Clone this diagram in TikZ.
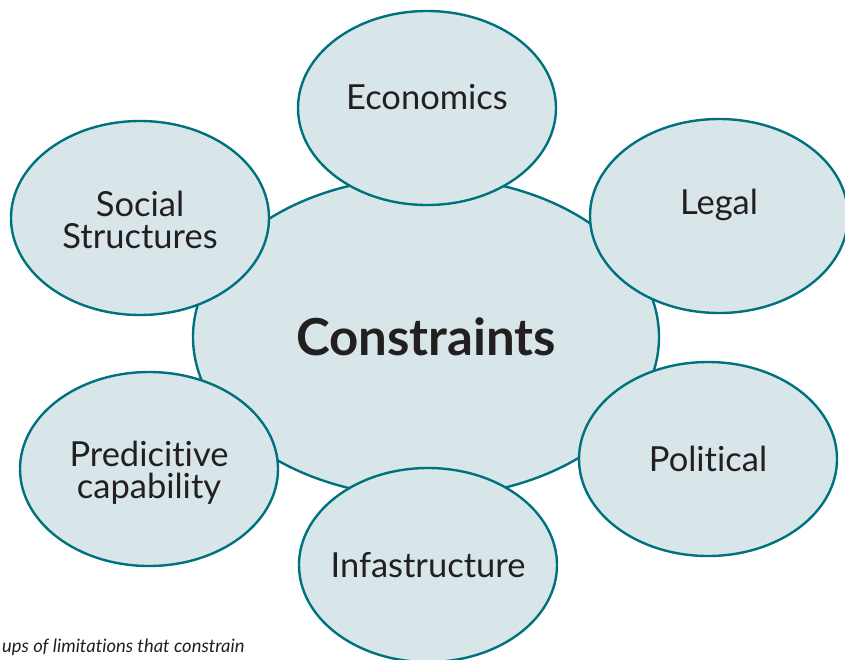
\documentclass[tikz,border=0pt]{standalone}
\usepackage{fontspec}
\setmainfont{Lato}[Ligatures=NoCommon]
\usepackage{xcolor}
\usetikzlibrary{shapes.geometric}

\definecolor{bubbleline}{RGB}{0,114,126}
\definecolor{bubblefill}{RGB}{216,230,234}
\definecolor{inktext}{RGB}{35,31,32}

\tikzset{
  bubble/.style={ellipse, draw=bubbleline, fill=bubblefill, line width=2.4pt,
    inner sep=0pt, minimum width=258pt, minimum height=194pt},
  core/.style={bubble, minimum width=466pt, minimum height=320pt},
  bubbletext/.style={align=center, inner sep=0pt, text=inktext,
    font=\fontsize{34.5}{32}\selectfont},
  coretext/.style={bubbletext, font=\fontsize{51}{52}\selectfont\bfseries}
}

\begin{document}
\begin{tikzpicture}[x=1pt, y=-1pt]
    \useasboundingbox (0,0) rectangle (845,659);

    % Centre ellipse
    \node[core, label={[coretext]center:Constraints}] (constr) at (426,337) {};

    % Ring of constraints around it
    \node[bubble, label={[bubbletext, yshift=11pt]center:Economics}] (econ) at (427,108) {};
    \node[bubble, label={[bubbletext, yshift=11pt]center:Legal}] (legal) at (719,216) {};
    \node[bubble, label={[bubbletext, yshift=-2pt]center:{Social\\Structures}}] (social) at (140,218) {};
    \node[bubble, label={[bubbletext, yshift=-4pt]center:{Predicitive\\capability}}] (predict) at (149,469) {};
    \node[bubble, label={[bubbletext]center:Political}] (polit) at (708,459) {};
    \node[bubble, label={[bubbletext]center:Infastructure}] (infra) at (428,565) {};

    % Caption, cut at the page edge
    \node[anchor=base west, inner sep=0pt, text=inktext,
      font=\fontsize{18.4}{20}\selectfont\itshape] (caption) at (2,652)
      {ups of limitations that constrain};

\end{tikzpicture}
\end{document}
